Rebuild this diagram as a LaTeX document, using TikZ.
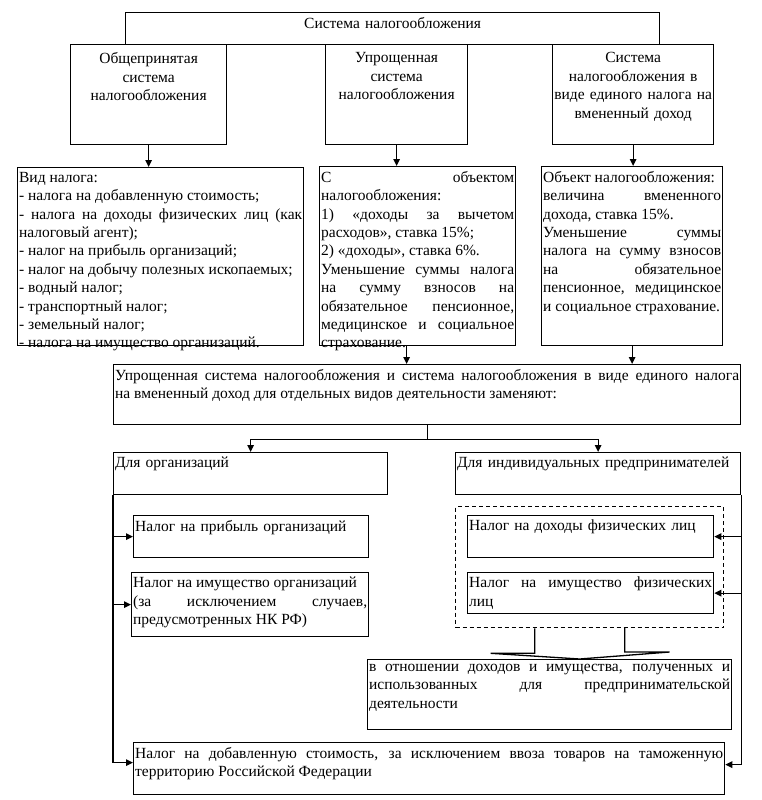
\documentclass[tikz,border=0pt]{standalone}
\usepackage{fontspec}
\setmainfont{Liberation Serif}
\usetikzlibrary{positioning,arrows.meta}
\hyphenpenalty=10000
\exhyphenpenalty=10000
\tolerance=10000
\hbadness=10000

\tikzstyle{frame}=[draw,line width=1.3pt,rectangle,inner sep=0pt,anchor=north west]
\tikzstyle{boxtext}=[anchor=north,inner xsep=1pt,inner ysep=5pt,font=\fontsize{15.5}{18.4}\selectfont]
\tikzstyle{link}=[line width=1.3pt]
\tikzstyle{arr}=[link,-{Triangle[length=7pt,width=6.5pt]}]
% [text options], name, x, y, width, height, align, text
\newcommand{\taxbox}[8][]{%
  \node[frame,minimum width=#5,minimum height=#6] (#2) at (#3,#4) {};
  \pgfmathsetlengthmacro{\boxtw}{#5-3}%
  \node[boxtext,text width=\boxtw,align=#7,#1] (#2-t) at (#2.north) {#8};}

\begin{document}
\begin{tikzpicture}[x=1pt,y=-1pt]
    \path[fill=white] (0,0) rectangle (761,800);
    \useasboundingbox (0,0) rectangle (761,800);

    % top level
    \taxbox{sys}{125}{12}{534}{32}{center}{Система налогообложения}
    \taxbox[yshift=-3.5pt]{gen}{70}{44}{156}{100}{center}{Общепринятая\\система\\налогообложения}
    \taxbox[yshift=-3.5pt]{simp}{325}{44}{142}{100}{center}{Упрощенная\\система\\налогообложения}
    \taxbox[yshift=-3.5pt]{envd}{552}{44}{161}{100}{center}{Система\\налогообложения в\\виде единого налога на\\вмененный доход}

    % details of each system
    \taxbox{genlist}{17}{167}{286}{178}{justify}{Вид налога:\\
      - налога на добавленную стоимость;\\
      - налога на доходы физических лиц (как\linebreak
      налоговый агент);\\
      - налог на прибыль организаций;\\
      - налог на добычу полезных ископаемых;\\
      - водный налог;\\
      - транспортный налог;\\
      - земельный налог;\\
      - налога на имущество организаций.}
    \taxbox{simplist}{319}{166}{196}{179}{justify}{\fontsize{15.5}{17.8}\selectfont С объектом\linebreak
      налогообложения:\\
      1) «доходы за вычетом\linebreak
      расходов», ставка 15\%;\\
      2) «доходы», ставка 6\%.\\
      Уменьшение суммы налога\linebreak
      на сумму взносов на\linebreak
      обязательное пенсионное,\linebreak
      медицинское и социальное\linebreak
      страхование.}
    \taxbox{envdlist}{541}{166}{181}{179}{justify}{Объект налогообложения:\\
      величина вмененного\linebreak
      дохода, ставка 15\%.\\
      Уменьшение суммы\linebreak
      налога на сумму взносов\linebreak
      на обязательное\linebreak
      пенсионное, медицинское\linebreak
      и социальное страхование.}

    \draw[arr] (gen.south) -- (gen.south |- genlist.north);
    \draw[arr] (simp.south) -- (simp.south |- simplist.north);
    \draw[arr] (envd.south) -- (envd.south |- envdlist.north);

    % what they replace
    \taxbox{replace}{113}{364}{627}{60}{justify}{Упрощенная система налогообложения и система налогообложения в виде единого налога\linebreak
      на вмененный доход для отдельных видов деятельности заменяют:}
    \coordinate (simpout) at ([xshift=-11pt]simplist.south);
    \draw[arr] (simpout) -- (simpout |- replace.north);
    \draw[arr] (envdlist.south) -- (envdlist.south |- replace.north);

    \taxbox{org}{113}{452}{274}{42}{left}{Для организаций}
    \taxbox{ip}{455}{452}{285}{42}{left}{Для индивидуальных предпринимателей}
    \draw[link] (replace.south) -- ++(0,14) coordinate (split);
    \draw[arr] (split) -| (org.north);
    \draw[arr] (split) -| (ip.north);

    % organisations
    \taxbox{profit}{133}{515}{235}{42}{left}{Налог на прибыль организаций}
    \taxbox{propo}{131}{572}{237}{64}{justify}{Налог на имущество организаций\\
      (за исключением случаев,\linebreak
      предусмотренных НК РФ)}

    % entrepreneurs
    \node[frame,dashed,dash pattern=on 4pt off 3pt,minimum width=268,minimum height=121] (ipgroup) at (455,506) {};
    \taxbox{pit}{467}{515}{246}{42}{left}{Налог на доходы физических лиц}
    \taxbox{pip}{467}{572}{246}{41}{justify}{Налог на имущество физических\linebreak
      лиц}
    \taxbox{inbox}{367}{659}{364}{70}{justify}{в отношении доходов и имущества, полученных и\linebreak
      использованных для предпринимательской\linebreak
      деятельности}
    \coordinate (shaft) at ([xshift=-10pt]ipgroup.south);
    \draw[link] ([xshift=-45pt]shaft) -- ++(0,25) -- ++(-44,0) -- (shaft |- inbox.north)
        -- ++(90,-7) -- ++(-45,0) -- ++(0,-25);

    % common for both
    \taxbox{vat}{133}{742}{591}{52}{justify}{Налог на добавленную стоимость, за исключением ввоза товаров на таможенную\linebreak
      территорию Российской Федерации}

    \draw[arr] (org.south west |- profit.west) -- (profit.west);
    \draw[arr] (org.south west |- propo.west) -- (propo.west);
    \draw[arr] (org.south west) |- ([yshift=6pt]vat.west);
    \draw[arr] (ip.south east |- pit.east) -- (pit.east);
    \draw[arr] (ip.south east |- pip.east) -- (pip.east);
    \draw[arr] (ip.south east) |- ([yshift=4pt]vat.east);
\end{tikzpicture}
\end{document}
